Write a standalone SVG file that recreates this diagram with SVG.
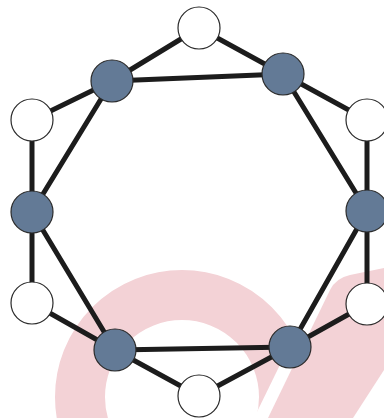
<svg xmlns="http://www.w3.org/2000/svg" width="384" height="418" viewBox="0 0 384 418">
<style>
.wm{fill:#f3d2d6}
.e{stroke:#1c1c1c;stroke-width:5;stroke-linecap:round}
.b{fill:#637a96;stroke:#2a2a2a;stroke-width:1.2}
.w{fill:#ffffff;stroke:#2a2a2a;stroke-width:1.2}
</style>
<defs>
<clipPath id="cut"><polygon points="0,0 384,0 384,152 254,418 0,418"/></clipPath>
</defs>
<rect width="384" height="418" fill="#ffffff"/>
<g id="watermark">
<circle cx="182" cy="397" r="102" fill="none" stroke="#f3d2d6" stroke-width="50" clip-path="url(#cut)"/>
<path class="wm" d="M268,418 L330,290 Q336,278 350,275 L384,268 L384,370 L353,418 Z"/>
</g>
<g id="connectors">
<line class="e" x1="199" y1="28" x2="112" y2="81"/>
<line class="e" x1="199" y1="28" x2="283" y2="74"/>
<line class="e" x1="112" y1="81" x2="283" y2="74"/>
<line class="e" x1="112" y1="81" x2="32" y2="120"/>
<line class="e" x1="112" y1="81" x2="32" y2="212"/>
<line class="e" x1="32" y1="120" x2="32" y2="212"/>
<line class="e" x1="32" y1="212" x2="32" y2="303"/>
<line class="e" x1="32" y1="212" x2="115" y2="350"/>
<line class="e" x1="32" y1="303" x2="115" y2="350"/>
<line class="e" x1="115" y1="350" x2="290" y2="347"/>
<line class="e" x1="115" y1="350" x2="199" y2="396"/>
<line class="e" x1="199" y1="396" x2="290" y2="347"/>
<line class="e" x1="290" y1="347" x2="367" y2="304"/>
<line class="e" x1="290" y1="347" x2="367" y2="211"/>
<line class="e" x1="367" y1="304" x2="367" y2="211"/>
<line class="e" x1="367" y1="211" x2="367" y2="120"/>
<line class="e" x1="367" y1="211" x2="283" y2="74"/>
<line class="e" x1="283" y1="74" x2="367" y2="120"/>
</g>
<g id="n-top"><circle class="w" cx="199" cy="28" r="21"/></g>
<g id="n-tl"><circle class="b" cx="112" cy="81" r="21"/></g>
<g id="n-tr"><circle class="b" cx="283" cy="74" r="21"/></g>
<g id="n-lu"><circle class="w" cx="32" cy="120" r="21"/></g>
<g id="n-ru"><circle class="w" cx="367" cy="120" r="21"/></g>
<g id="n-l"><circle class="b" cx="32" cy="212" r="21"/></g>
<g id="n-r"><circle class="b" cx="367" cy="211" r="21"/></g>
<g id="n-ll"><circle class="w" cx="32" cy="303" r="21"/></g>
<g id="n-rl"><circle class="w" cx="367" cy="304" r="21"/></g>
<g id="n-bl"><circle class="b" cx="115" cy="350" r="21"/></g>
<g id="n-br"><circle class="b" cx="290" cy="347" r="21"/></g>
<g id="n-bottom"><circle class="w" cx="199" cy="396" r="21"/></g>
</svg>
